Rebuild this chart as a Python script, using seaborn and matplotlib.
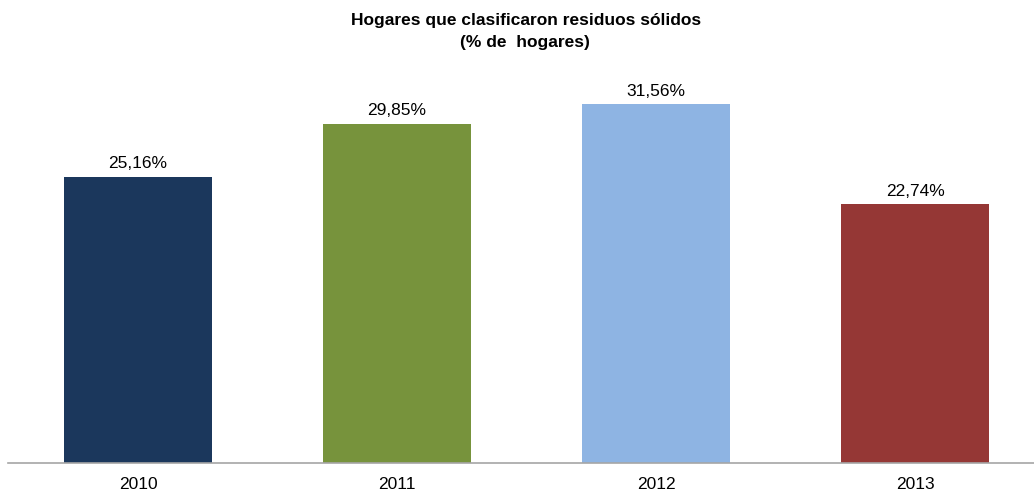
import matplotlib
matplotlib.use("Agg")
import matplotlib.pyplot as plt
import seaborn as sns
import pandas as pd

years = ["2010", "2011", "2012", "2013"]
values = [25.16, 29.85, 31.56, 22.74]
labels = ["25,16%", "29,85%", "31,56%", "22,74%"]
colors = ["#1b375c", "#77933c", "#8eb4e3", "#953735"]

sns.set_theme(style="white")
plt.rcParams['font.family'] = ['Liberation Sans', 'DejaVu Sans']

df = pd.DataFrame({"year": years, "value": values})

fig = plt.figure(figsize=(10.34, 4.92), dpi=100)
ax = fig.add_axes([8/1034, 29/492, 1026/1034, 403/492])
sns.barplot(data=df, x="year", y="value", hue="year", palette=colors,
            width=0.57, legend=False, ax=ax, saturation=1, linewidth=0)

ax.set_xlim(-0.502, 3.459)
ax.set_ylim(0, 35.45)
ax.set_xlabel("")
ax.set_ylabel("")
ax.set_yticks([])
for s in ["top", "right", "left"]:
    ax.spines[s].set_visible(False)
ax.spines["bottom"].set_color("#a6a6a6")
ax.spines["bottom"].set_linewidth(1.2)
ax.tick_params(axis="x", length=0, pad=10, labelsize=12.5, colors="#000000")

for p, lab in zip(ax.patches, labels):
    ax.annotate(lab, (p.get_x() + p.get_width() / 2, p.get_height()),
                xytext=(0, 4), textcoords="offset points",
                ha="center", va="bottom", fontsize=12.5, color="#000000")

fig.text(526/1034, 1 - 20/492, "Hogares que clasificaron residuos sólidos",
         ha="center", va="center", fontsize=12.5, fontweight="bold", color="#000000")
fig.text(525/1034, 1 - 42/492, "(% de  hogares)",
         ha="center", va="center", fontsize=12.5, fontweight="bold", color="#000000")

fig.savefig("out.png", dpi=100)
